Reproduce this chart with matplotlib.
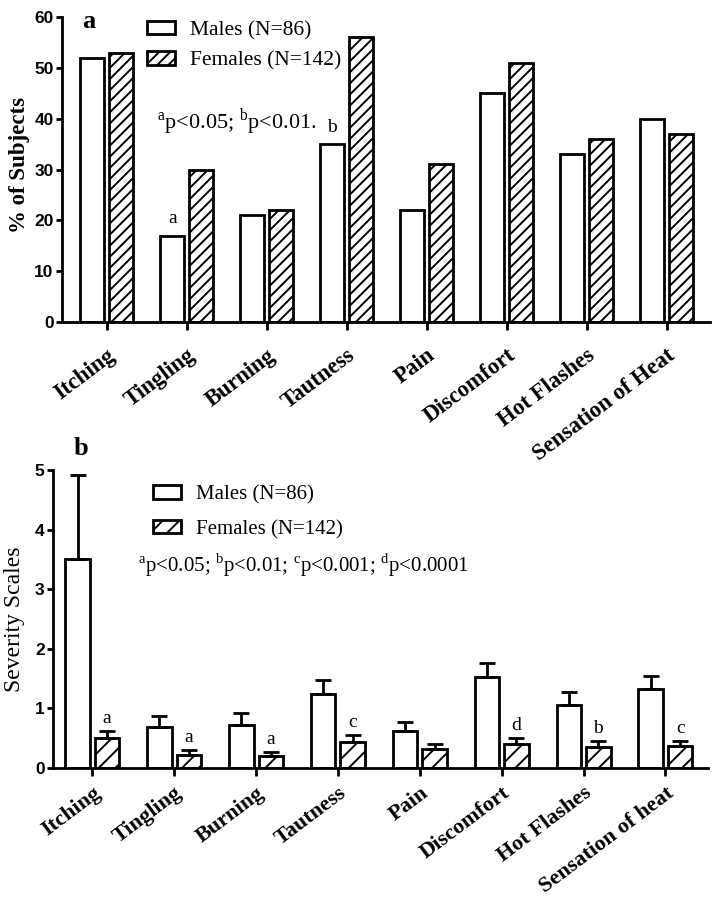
import numpy as np
import matplotlib
matplotlib.use("Agg")
import matplotlib.pyplot as plt
from matplotlib.transforms import ScaledTranslation

# data
symptoms_a = ["Itching", "Tingling", "Burning", "Tautness", "Pain",
              "Discomfort", "Hot Flashes", "Sensation of Heat"]
symptoms_b = ["Itching", "Tingling", "Burning", "Tautness", "Pain",
              "Discomfort", "Hot Flashes", "Sensation of heat"]

pct_males = [52, 17, 21, 35, 22, 45, 33, 40]
pct_females = [53, 30, 22, 56, 31, 51, 36, 37]
sig_a = {1: "a", 3: "b"}          # letters above male bars (panel a)

sev_males = [3.50, 0.68, 0.72, 1.25, 0.62, 1.53, 1.06, 1.33]
sev_males_err = [1.42, 0.20, 0.20, 0.22, 0.15, 0.23, 0.21, 0.21]
sev_females = [0.50, 0.22, 0.20, 0.43, 0.32, 0.40, 0.35, 0.37]
sev_females_err = [0.12, 0.08, 0.07, 0.12, 0.08, 0.10, 0.10, 0.08]
sig_b = ["a", "a", "a", "c", "", "d", "b", "c"]   # letters above female bars

plt.rcParams['hatch.linewidth'] = 1.4
plt.rcParams['mathtext.fontset'] = 'custom'
plt.rcParams['mathtext.rm'] = 'Liberation Serif'

SERIF = "Liberation Serif"
SANS = "Liberation Sans"
LW = 2.0


def style_axes(ax, labels, pad, size):
    for s in ["top", "right"]:
        ax.spines[s].set_visible(False)
    for s in ["left", "bottom"]:
        ax.spines[s].set_linewidth(LW)
    ax.tick_params(axis="y", direction="out", width=LW, length=4, pad=2)
    ax.tick_params(axis="x", direction="out", width=LW, length=5.5, pad=pad)
    for t in ax.get_yticklabels():
        t.set_fontfamily(SANS)
        t.set_fontweight("bold")
        t.set_fontsize(12.5)
    ax.set_xticks(np.arange(len(labels)))
    ax.set_xticklabels(labels, rotation=37, ha="right", va="center",
                       rotation_mode="anchor",
                       fontfamily=SERIF, fontweight="bold", fontsize=size)
    shift = ScaledTranslation(6/100, 0, fig.dpi_scale_trans)
    for t in ax.get_xticklabels():
        t.set_transform(t.get_transform() + shift)


fig = plt.figure(figsize=(7.15, 9), dpi=100)
x = np.arange(len(symptoms_a))
off, w = 0.18, 0.30

# ---------- panel a ----------
ax1 = fig.add_axes([62/715, 1-322/900, 648/715, 305/900])
ax1.bar(x - off, pct_males, w, color="white", edgecolor="black", lw=LW,
        label="Males (N=86)")
ax1.bar(x + off, pct_females, w, color="white", edgecolor="black", lw=LW,
        hatch="///", label="Females (N=142)")
ax1.set_ylim(0, 60)
ax1.set_yticks(range(0, 61, 10))
ax1.set_xlim(-0.56, 7.54)
style_axes(ax1, symptoms_a, 17, 16.5)
ax1.set_ylabel("% of Subjects", fontfamily=SERIF, fontweight="bold", fontsize=16.5)
ax1.yaxis.set_label_coords(-0.05, 0.515)
for i, s in sig_a.items():
    ax1.text(i - off, pct_males[i] + 1.6, s, ha="center", va="bottom",
             fontfamily=SERIF, fontsize=14)
ax1.legend(loc="upper left", bbox_to_anchor=(0.131, 0.988), frameon=False,
           prop={"family": SERIF, "size": 15.5}, handlelength=1.3,
           handleheight=0.6, labelspacing=0.53, handletextpad=0.7,
           borderpad=0, borderaxespad=0)
ax1.text(0.147, 0.656, r"$^{\mathrm{a}}$p<0.05; $^{\mathrm{b}}$p<0.01.",
         transform=ax1.transAxes, fontfamily=SERIF, fontsize=16, va="center")
fig.text(82/715, 1-28/900, "a", fontfamily=SERIF, fontweight="bold",
         fontsize=19, va="baseline")

# ---------- panel b ----------
ax2 = fig.add_axes([53/715, 1-768/900, 655/715, 298/900])
ax2.bar(x - off, sev_males, w, color="white", edgecolor="black", lw=LW,
        label="Males (N=86)")
ax2.bar(x + off, sev_females, w, color="white", edgecolor="black", lw=LW,
        hatch="//", label="Females (N=142)")
ax2.errorbar(x - off, sev_males, yerr=[np.zeros(8), sev_males_err], fmt="none",
             ecolor="black", elinewidth=LW, capsize=5.5, capthick=LW)
ax2.errorbar(x + off, sev_females, yerr=[np.zeros(8), sev_females_err], fmt="none",
             ecolor="black", elinewidth=LW, capsize=5.5, capthick=LW)
ax2.set_ylim(0, 5)
ax2.set_yticks(range(0, 6))
ax2.set_xlim(-0.48, 7.52)
style_axes(ax2, symptoms_b, 11, 16)
ax2.set_ylabel("Severity Scales", fontfamily=SERIF, fontsize=17)
ax2.yaxis.set_label_coords(-0.043, 0.5)
for i, s in enumerate(sig_b):
    if s:
        ax2.text(i + off, sev_females[i] + sev_females_err[i] + 0.07, s,
                 ha="center", va="bottom", fontfamily=SERIF, fontsize=14)
ax2.legend(loc="upper left", bbox_to_anchor=(0.153, 0.949), frameon=False,
           prop={"family": SERIF, "size": 15}, handlelength=1.35,
           handleheight=0.6, labelspacing=0.74, handletextpad=0.7,
           borderpad=0, borderaxespad=0)
ax2.text(0.13, 0.681, r"$^{\mathrm{a}}$p<0.05; $^{\mathrm{b}}$p<0.01; "
         r"$^{\mathrm{c}}$p<0.001; $^{\mathrm{d}}$p<0.0001",
         transform=ax2.transAxes, fontfamily=SERIF, fontsize=15, va="center")
fig.text(74/715, 1-455/900, "b", fontfamily=SERIF, fontweight="bold",
         fontsize=19, va="baseline")

fig.savefig("out.png", dpi=100)
